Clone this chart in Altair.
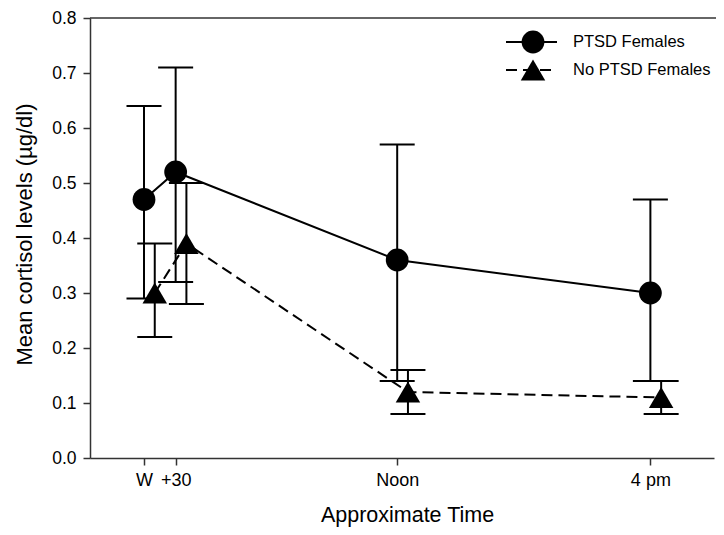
import altair as alt
import pandas as pd

# ---- data ----
times = [8.0, 8.5, 12.0, 16.0]          # hours of the day
time_labels = ["W", "+30", "Noon", "4 pm"]
groups = ["PTSD Females", "No PTSD Females"]

ptsd_mean = [0.47, 0.52, 0.36, 0.30]
ptsd_low = [0.29, 0.32, 0.14, 0.14]
ptsd_high = [0.64, 0.71, 0.57, 0.47]

noptsd_mean = [0.30, 0.39, 0.12, 0.11]
noptsd_low = [0.22, 0.28, 0.08, 0.08]
noptsd_high = [0.39, 0.50, 0.16, 0.14]

# ---- styling ----
FONT = "Liberation Sans"
W, H = 624, 440
OFFSET = {groups[0]: 0.0, groups[1]: 0.17}   # horizontal jitter between groups
DASH = [11, 6]

rows = []
for g, means, lows, highs in [
    (groups[0], ptsd_mean, ptsd_low, ptsd_high),
    (groups[1], noptsd_mean, noptsd_low, noptsd_high),
]:
    for t, m, lo, hi in zip(times, means, lows, highs):
        rows.append({"group": g, "time": t, "xpos": t + OFFSET[g],
                     "mean": m, "low": lo, "high": hi})
df = pd.DataFrame(rows)

label_expr = " : ".join(
    f"datum.value == {t} ? '{lab}'" for t, lab in zip(times, time_labels)
) + " : ''"

x_scale = alt.Scale(domain=[7.147, 17.005], nice=False, zero=False)
y_scale = alt.Scale(domain=[0, 0.8], nice=False)

x_axis = alt.Axis(values=times, labelExpr=label_expr, title="Approximate Time",
                  grid=False, tickSize=7, labelPadding=6, labelFontSize=18,
                  titleFontSize=21.5, titleFontWeight="normal", titlePadding=15,
                  titleX=317,
                  domainColor="#333", tickColor="#333", domainWidth=1.5,
                  tickWidth=1.5, labelColor="black", titleColor="black",
                  labelFont=FONT, titleFont=FONT)
y_axis = alt.Axis(values=[i / 10 for i in range(9)], format=".1f",
                  title="Mean cortisol levels (µg/dl)", grid=False, tickSize=7,
                  labelPadding=7, labelFontSize=17.5, titleFontSize=22,
                  titleFontWeight="normal", titlePadding=15, titleY=H / 2 - 4,
                  domainColor="#333", tickColor="#333", domainWidth=1.5,
                  tickWidth=1.5, labelColor="black", titleColor="black",
                  labelFont=FONT, titleFont=FONT)

base = alt.Chart(df)
X = alt.X("xpos:Q", scale=x_scale, axis=x_axis)


def Y(field):
    return alt.Y(f"{field}:Q", scale=y_scale, axis=y_axis)


def group_layers(g, shape, size, dash):
    b = base.transform_filter(alt.datum.group == g)
    bars = b.mark_rule(color="black", strokeWidth=2).encode(
        x=X, y=Y("low"), y2="high:Q")
    cap_lo = b.mark_tick(orient="horizontal", size=35, thickness=2,
                         color="black", opacity=1).encode(x=X, y=Y("low"))
    cap_hi = b.mark_tick(orient="horizontal", size=35, thickness=2,
                         color="black", opacity=1).encode(x=X, y=Y("high"))
    line_kw = {"color": "black", "strokeWidth": 2}
    if dash:
        line_kw["strokeDash"] = dash
    line = b.mark_line(**line_kw).encode(x=X, y=Y("mean"), order="time:Q")
    pts = b.mark_point(shape=shape, filled=True, size=size, color="black",
                       opacity=1).encode(x=X, y=Y("mean"))
    return [bars, cap_lo, cap_hi, line, pts]


layers = []
layers += group_layers(groups[1], "triangle-up", 600, DASH)
layers += group_layers(groups[0], "circle", 520, None)

# top frame line
one = pd.DataFrame({"k": [0]})
layers.append(alt.Chart(one).mark_rule(color="#333", strokeWidth=1.5).encode(
    x=alt.value(0), x2=alt.value(W + 2), y=alt.value(0)))

# manual legend
leg = [
    (groups[0], "circle", 520, None, 24),
    (groups[1], "triangle-up", 600, DASH, 52),
]
for name, shape, size, dash, ly in leg:
    d = pd.DataFrame({"label": [name]})
    rk = {"color": "black", "strokeWidth": 2}
    if dash:
        rk["strokeDash"] = dash
    layers.append(alt.Chart(d).mark_rule(**rk).encode(
        x=alt.value(416), x2=alt.value(467), y=alt.value(ly)))
    layers.append(alt.Chart(d).mark_point(shape=shape, filled=True, size=size,
                                          color="black", opacity=1).encode(
        x=alt.value(443), y=alt.value(ly)))
    layers.append(alt.Chart(d).mark_text(align="left", baseline="middle",
                                         font=FONT, fontSize=16.5,
                                         color="black").encode(
        x=alt.value(483), y=alt.value(ly), text="label:N"))

chart = alt.layer(*layers).properties(
    width=W, height=H,
    autosize=alt.AutoSizeParams(type="none"),
    padding={"left": 82, "top": 10, "right": 2, "bottom": 69},
).configure(font=FONT).configure_view(stroke=None)

chart.save("out.html", embed_options={"renderer": "svg", "actions": False})
